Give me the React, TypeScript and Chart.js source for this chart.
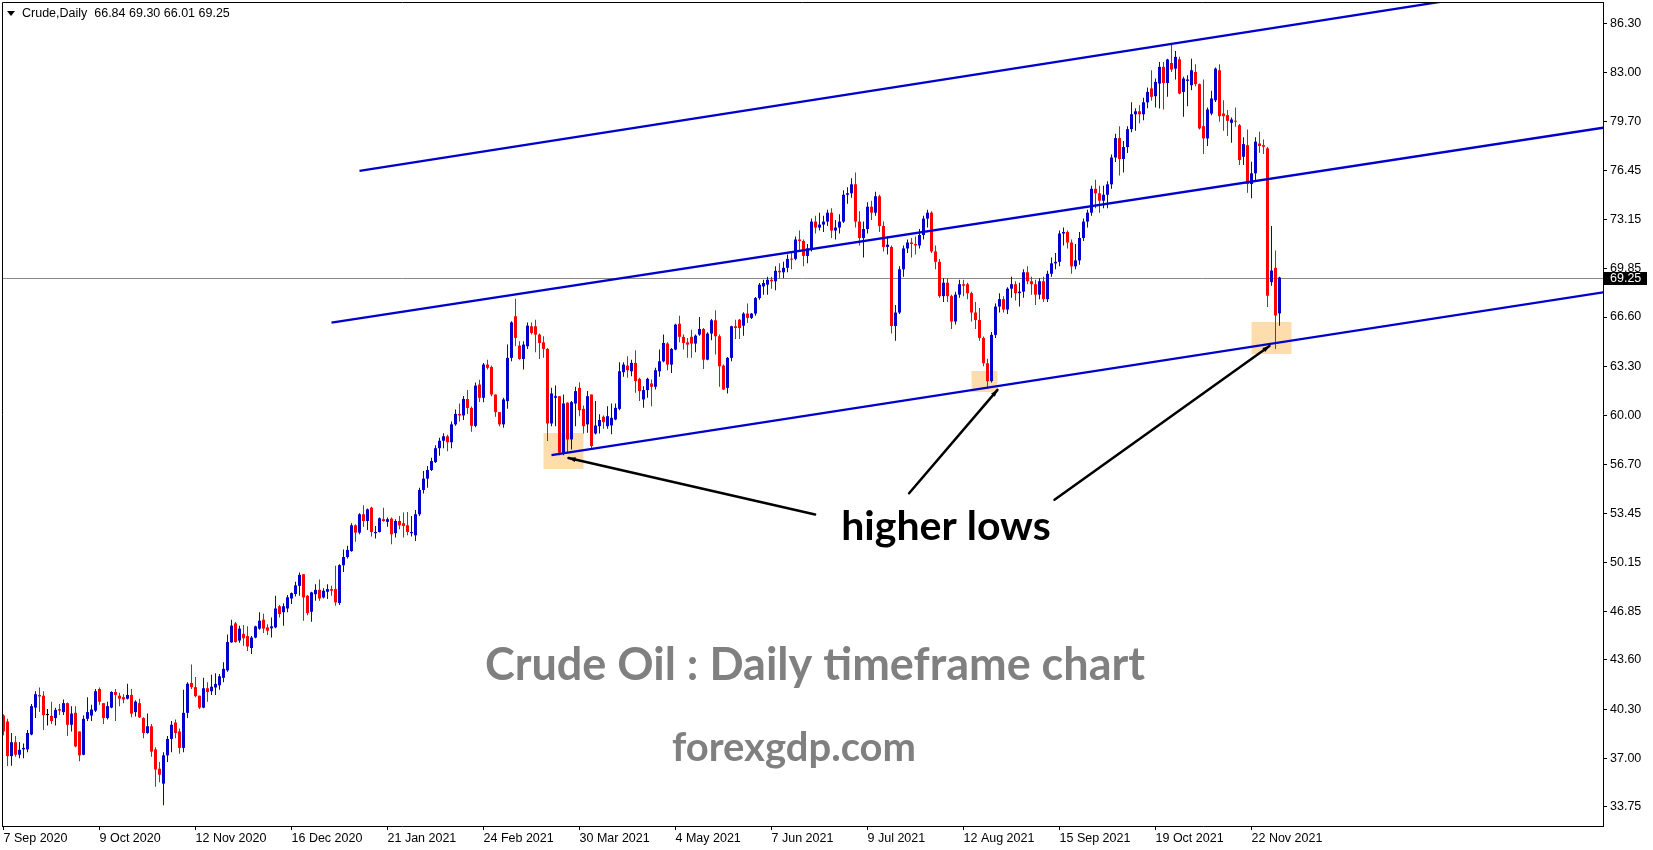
import React, { useEffect, useRef } from "react";
import { Chart, registerables } from "chart.js";

Chart.register(...registerables);

// ---------------- DATA ----------------
const openP = [
  39.87, 39.47, 37.15, 38.08, 37.24, 37.60, 37.60, 38.60, 40.40, 41.25,
  41.20, 39.90, 39.85, 39.70, 40.30, 40.10, 40.70, 39.25, 40.05, 38.80,
  37.24, 39.65, 39.87, 40.20, 41.65, 40.70, 39.70, 40.40, 41.45, 41.20,
  41.10, 41.00, 41.25, 40.10, 40.70, 39.70, 38.70, 39.15, 37.60, 36.30,
  35.30, 37.20, 38.30, 39.40, 38.80, 37.70, 40.05, 42.05, 41.77, 41.20,
  40.40, 41.70, 41.50, 41.75, 41.90, 42.40, 42.90, 44.78, 46.05, 44.90,
  45.35, 45.20, 44.40, 45.10, 45.70, 46.30, 45.78, 45.72, 45.78, 47.20,
  46.80, 47.05, 47.72, 48.02, 48.57, 49.35, 47.90, 46.83, 48.01, 48.30,
  47.79, 48.17, 48.35, 48.35, 47.42, 49.95, 50.50, 50.90, 52.63, 52.14,
  53.37, 52.92, 53.81, 52.10, 52.18, 53.04, 52.86, 53.08, 52.10, 52.92,
  52.77, 52.63, 52.10, 51.96, 53.37, 55.00, 55.76, 56.34, 56.87, 57.80,
  58.30, 58.60, 58.20, 59.40, 60.10, 60.00, 61.10, 60.50, 59.30, 62.07,
  61.18, 63.41, 63.25, 61.40, 60.22, 59.40, 60.96, 63.86, 66.65, 64.68,
  63.79, 64.64, 65.98, 65.98, 65.42, 64.90, 64.46, 59.46, 61.18, 61.29,
  57.50, 60.85, 58.39, 60.80, 61.85, 60.44, 59.40, 61.40, 58.79, 59.28,
  59.91, 59.28, 59.33, 59.73, 60.44, 62.90, 63.34, 62.96, 63.52, 62.45,
  61.07, 61.70, 62.14, 61.92, 62.96, 63.63, 64.82, 63.41, 64.42, 66.15,
  65.27, 64.90, 65.27, 64.82, 65.42, 65.80, 63.74, 65.49, 66.38, 65.31,
  63.34, 61.85, 63.86, 65.98, 66.42, 66.02, 66.83, 66.54, 66.83, 67.87,
  68.65, 68.77, 69.10, 69.00, 69.70, 69.60, 69.90, 70.50, 70.50, 71.80,
  71.70, 70.70, 71.20, 73.00, 72.60, 72.80, 73.00, 73.60, 72.40, 72.60,
  73.00, 74.80, 74.90, 75.50, 73.00, 71.90, 72.50, 74.00, 73.60, 74.70,
  72.70, 71.30, 71.30, 66.00, 66.90, 69.80, 71.20, 71.60, 71.50, 71.40,
  72.10, 73.20, 73.60, 71.00, 70.30, 68.00, 68.90, 68.00, 66.30, 68.10,
  68.80, 68.80, 68.20, 66.90, 66.40, 65.20, 63.50, 62.30, 65.40, 67.30,
  67.80, 67.10, 68.50, 68.80, 68.20, 68.30, 69.60, 69.00, 68.80, 68.10,
  69.00, 67.80, 69.50, 70.20, 70.30, 72.20, 72.30, 71.60, 70.00, 70.40,
  71.90, 73.00, 73.60, 75.20, 74.90, 74.40, 74.80, 75.50, 77.30, 78.60,
  77.20, 78.00, 79.20, 80.20, 80.40, 80.20, 81.00, 81.93, 81.41, 82.26,
  83.38, 82.30, 83.64, 83.26, 83.89, 81.70, 82.44, 82.15, 83.04, 82.22,
  79.40, 78.58, 80.25, 81.14, 83.15, 80.25, 80.14, 79.63, 79.76, 79.47,
  77.35, 78.13, 75.52, 76.24, 78.24, 78.13, 77.91, 68.94, 69.90, 66.84,
];

const highP = [
  39.95, 39.65, 38.70, 38.50, 38.10, 38.00, 38.90, 40.65, 41.50, 41.75,
  41.50, 40.30, 40.80, 40.40, 40.65, 40.95, 40.75, 40.50, 40.50, 38.80,
  39.87, 41.10, 40.60, 41.65, 41.75, 40.70, 40.80, 41.50, 41.65, 41.40,
  41.30, 42.00, 41.65, 40.90, 41.00, 39.75, 40.00, 39.30, 37.75, 36.75,
  37.40, 38.50, 39.50, 39.60, 39.00, 41.60, 42.10, 43.30, 42.45, 41.20,
  42.40, 42.10, 42.60, 42.70, 42.65, 43.45, 45.30, 46.30, 46.15, 45.90,
  45.95, 45.85, 45.20, 45.90, 46.80, 46.70, 46.00, 46.45, 47.90, 47.28,
  47.40, 47.95, 48.12, 48.84, 49.47, 49.35, 47.95, 48.17, 48.68, 49.00,
  48.40, 48.68, 48.57, 49.91, 50.02, 51.00, 51.25, 52.77, 52.70, 53.44,
  53.97, 53.75, 53.88, 52.59, 53.15, 53.81, 53.15, 53.15, 53.04, 53.26,
  53.48, 53.52, 53.26, 53.66, 55.15, 56.27, 56.60, 57.16, 58.00, 58.50,
  58.80, 58.70, 59.60, 60.40, 60.80, 61.30, 61.70, 60.60, 62.20, 62.40,
  63.52, 63.74, 63.34, 61.40, 60.22, 61.18, 64.75, 66.31, 67.83, 64.97,
  64.97, 66.24, 66.24, 66.42, 65.49, 65.31, 64.53, 61.85, 62.00, 61.29,
  61.40, 60.89, 60.96, 61.92, 62.23, 60.66, 61.63, 61.40, 60.96, 60.07,
  60.00, 60.62, 60.80, 60.80, 63.57, 63.57, 63.97, 63.74, 64.37, 62.52,
  61.96, 62.52, 62.41, 63.19, 64.42, 65.42, 64.90, 64.53, 66.15, 66.69,
  65.42, 65.20, 65.75, 65.42, 66.60, 65.86, 65.58, 66.47, 67.05, 65.42,
  63.41, 63.92, 66.02, 66.42, 66.47, 66.92, 67.50, 66.87, 67.94, 68.88,
  69.10, 69.30, 69.30, 70.00, 70.20, 70.30, 70.80, 71.00, 72.00, 72.40,
  71.80, 71.50, 73.20, 73.40, 73.60, 73.40, 73.80, 73.90, 73.10, 73.50,
  75.10, 75.30, 75.90, 76.30, 73.70, 73.00, 74.30, 74.40, 75.00, 74.80,
  73.00, 72.00, 71.40, 67.40, 70.00, 71.40, 71.80, 71.90, 72.00, 72.50,
  73.40, 73.80, 73.70, 71.40, 70.50, 69.20, 69.20, 68.10, 68.30, 69.10,
  69.10, 68.90, 68.30, 67.60, 67.20, 65.30, 63.80, 65.60, 67.50, 68.20,
  68.00, 68.60, 69.30, 69.00, 68.90, 69.80, 70.00, 69.30, 69.10, 69.20,
  69.30, 69.70, 70.60, 70.90, 72.40, 72.60, 72.40, 71.80, 71.50, 72.30,
  73.20, 73.80, 75.40, 75.80, 75.40, 75.40, 75.70, 77.50, 78.90, 79.40,
  78.40, 79.40, 81.00, 80.60, 80.80, 81.30, 82.00, 83.15, 82.60, 83.71,
  83.71, 83.93, 84.89, 84.45, 84.05, 82.71, 82.82, 83.93, 83.55, 82.26,
  82.53, 80.65, 81.77, 83.33, 83.55, 81.14, 80.48, 79.98, 80.65, 79.54,
  78.65, 79.18, 77.02, 78.65, 79.02, 78.51, 78.00, 72.71, 71.06, 69.30,
];

const lowP = [
  38.55, 36.48, 36.50, 37.10, 37.00, 37.00, 37.40, 38.55, 39.70, 40.10,
  38.90, 39.20, 39.30, 39.20, 39.90, 39.90, 38.50, 38.80, 37.75, 36.80,
  37.20, 39.50, 39.50, 40.10, 40.60, 39.30, 39.60, 40.35, 39.50, 40.50,
  40.70, 40.95, 39.75, 39.80, 39.70, 38.35, 38.65, 37.10, 35.10, 35.40,
  33.85, 36.75, 37.40, 38.35, 37.30, 37.40, 39.70, 41.65, 41.10, 40.30,
  40.35, 40.80, 41.25, 41.25, 41.60, 42.10, 42.80, 44.75, 44.75, 44.75,
  44.55, 44.20, 44.00, 45.05, 45.63, 45.40, 45.27, 45.10, 45.72, 46.45,
  45.90, 46.80, 47.35, 47.85, 47.90, 46.23, 46.60, 46.16, 47.57, 47.57,
  47.72, 47.68, 47.90, 47.23, 47.28, 49.50, 50.40, 50.85, 51.52, 52.03,
  52.54, 52.32, 51.87, 51.74, 52.14, 52.86, 52.54, 51.36, 51.81, 52.36,
  51.81, 51.96, 51.87, 51.58, 53.26, 54.77, 55.15, 56.27, 56.80, 57.30,
  57.80, 57.60, 57.80, 59.30, 59.60, 59.70, 60.10, 58.90, 59.20, 60.90,
  60.89, 63.08, 61.29, 59.91, 59.28, 59.17, 60.44, 63.63, 64.64, 63.74,
  63.08, 64.46, 65.42, 64.24, 63.79, 63.86, 58.28, 59.28, 59.28, 57.32,
  57.32, 57.50, 57.72, 59.28, 59.95, 58.79, 58.84, 57.80, 58.72, 58.79,
  59.10, 59.10, 58.73, 59.68, 60.35, 62.59, 62.52, 62.63, 61.52, 60.96,
  60.51, 61.18, 60.62, 61.74, 62.59, 63.57, 63.03, 62.85, 64.37, 64.90,
  64.42, 63.86, 63.86, 64.24, 65.35, 63.12, 63.70, 65.04, 64.08, 61.92,
  61.70, 61.47, 63.63, 65.13, 65.13, 65.35, 66.20, 66.47, 66.69, 67.76,
  68.10, 68.10, 68.50, 68.40, 69.20, 69.20, 69.60, 69.80, 70.40, 71.10,
  70.00, 70.20, 71.00, 72.20, 72.40, 72.30, 72.70, 71.90, 71.80, 72.20,
  72.90, 74.20, 74.60, 72.60, 71.40, 70.60, 72.20, 73.10, 73.40, 72.30,
  71.00, 70.80, 65.50, 65.00, 66.80, 69.30, 70.90, 70.60, 70.80, 71.20,
  71.80, 72.60, 70.90, 69.80, 67.90, 67.60, 67.60, 65.80, 66.10, 67.90,
  68.00, 67.80, 66.30, 65.80, 65.00, 63.30, 61.80, 62.20, 65.20, 66.90,
  66.90, 66.80, 67.90, 67.70, 67.30, 67.90, 68.80, 68.10, 67.40, 67.80,
  67.60, 67.60, 69.30, 69.80, 70.00, 71.40, 71.20, 69.50, 69.80, 70.10,
  71.70, 72.60, 73.40, 73.90, 73.60, 73.90, 73.90, 75.20, 77.00, 76.10,
  76.30, 77.60, 79.00, 79.10, 79.60, 79.80, 80.60, 81.10, 80.65, 80.59,
  80.52, 81.37, 83.04, 82.53, 81.55, 80.03, 80.74, 81.81, 82.08, 79.18,
  77.53, 78.07, 80.14, 81.03, 79.70, 79.09, 78.74, 78.29, 79.36, 76.79,
  76.79, 74.94, 74.56, 75.68, 77.62, 77.53, 67.27, 68.70, 64.45, 66.01,
];

const closeP = [
  38.80, 37.15, 38.08, 37.24, 37.57, 37.70, 38.70, 40.50, 41.30, 41.15,
  39.90, 39.90, 39.50, 40.25, 40.20, 40.70, 39.25, 40.00, 37.80, 37.20,
  39.65, 40.10, 40.27, 41.50, 40.80, 39.70, 40.50, 41.45, 41.25, 41.00,
  40.95, 41.25, 40.00, 40.80, 39.75, 38.70, 39.15, 37.45, 36.25, 35.90,
  37.20, 38.30, 39.25, 38.70, 37.70, 40.05, 42.00, 41.77, 41.17, 40.40,
  41.70, 41.45, 41.80, 41.99, 42.50, 43.00, 44.80, 45.90, 44.80, 45.70,
  45.05, 44.50, 45.10, 45.85, 46.23, 45.70, 45.56, 45.85, 47.05, 46.68,
  47.20, 47.80, 48.08, 48.60, 49.30, 47.79, 46.74, 48.13, 48.30, 47.72,
  48.24, 48.35, 48.24, 47.46, 49.96, 50.50, 50.98, 52.63, 52.14, 53.37,
  52.92, 53.70, 52.18, 52.18, 53.10, 52.92, 53.04, 52.03, 52.92, 52.63,
  52.59, 52.18, 52.18, 53.37, 55.00, 55.76, 56.34, 56.94, 57.80, 58.30,
  58.60, 58.20, 59.40, 60.10, 60.00, 61.10, 60.50, 59.30, 62.00, 61.18,
  63.41, 63.19, 61.40, 60.22, 59.40, 61.07, 63.86, 66.24, 65.20, 63.79,
  64.75, 66.02, 65.53, 65.42, 64.86, 64.46, 59.46, 61.47, 61.29, 57.50,
  60.80, 58.39, 60.89, 61.63, 60.35, 59.28, 61.29, 57.95, 59.32, 59.69,
  59.55, 59.95, 59.84, 60.51, 62.96, 63.41, 63.03, 63.52, 62.30, 61.63,
  61.70, 62.45, 61.92, 63.03, 63.63, 64.86, 63.41, 64.46, 66.09, 65.27,
  64.86, 64.75, 64.82, 65.35, 65.80, 63.74, 65.49, 66.38, 65.31, 63.30,
  61.74, 63.86, 65.98, 65.86, 65.86, 66.83, 66.54, 66.83, 67.87, 68.77,
  68.88, 69.10, 69.00, 69.70, 69.60, 69.90, 70.50, 70.45, 71.80, 71.70,
  70.70, 71.20, 73.00, 72.60, 72.80, 73.00, 73.60, 72.40, 72.60, 73.00,
  74.80, 74.90, 75.50, 73.00, 71.90, 72.50, 74.00, 73.60, 74.70, 72.70,
  71.30, 71.45, 66.00, 66.90, 69.80, 71.20, 71.60, 71.50, 71.40, 72.10,
  73.20, 73.60, 71.00, 70.30, 68.00, 68.90, 68.00, 66.30, 68.10, 68.80,
  68.70, 68.20, 66.90, 66.40, 65.20, 63.50, 62.30, 65.40, 67.30, 67.80,
  67.10, 68.50, 68.80, 68.20, 68.30, 69.60, 69.00, 68.80, 68.10, 69.00,
  67.80, 69.50, 70.20, 70.30, 72.20, 72.30, 71.60, 70.00, 70.40, 71.90,
  73.00, 73.60, 75.20, 74.90, 74.40, 74.80, 75.50, 77.30, 78.60, 77.20,
  78.00, 79.20, 80.20, 80.40, 80.20, 81.00, 81.70, 81.37, 82.37, 83.38,
  82.30, 83.87, 83.20, 84.05, 81.59, 82.60, 82.53, 83.15, 82.22, 79.25,
  78.58, 80.52, 81.26, 83.26, 80.07, 80.07, 79.76, 79.85, 79.70, 77.13,
  78.20, 75.52, 76.24, 78.36, 78.07, 78.02, 68.03, 69.72, 66.70, 69.25,
];

// x tick positions (bar index) and their labels
const xTickIndex = [0, 24, 48, 72, 96, 120, 144, 168, 192, 216, 240, 264, 288, 312];
const xTickLabels = [
  "7 Sep 2020", "9 Oct 2020", "12 Nov 2020", "16 Dec 2020", "21 Jan 2021",
  "24 Feb 2021", "30 Mar 2021", "4 May 2021", "7 Jun 2021", "9 Jul 2021",
  "12 Aug 2021", "15 Sep 2021", "19 Oct 2021", "22 Nov 2021",
];
const yTickValues = [86.3, 83.0, 79.7, 76.45, 73.15, 69.85, 66.6, 63.3, 60.0, 56.7, 53.45, 50.15, 46.85, 43.6, 40.3, 37.0, 33.75];

const currentPrice = 69.25;
const headerText = "Crude,Daily  66.84 69.30 66.01 69.25";

// channel (trend) lines, in (bar index, price)
const channelTop = [{ x: 89, y: 76.41 }, { x: 400, y: 89.45 }];
const channelMid = [{ x: 82, y: 66.23 }, { x: 400, y: 79.3 }];
const channelLow = [{ x: 137, y: 57.34 }, { x: 400, y: 68.26 }];

// highlighted zones (bar index range, price range)
const zoneBoxes = [
  { x0: 135, x1: 145, top: 58.82, bottom: 56.41 },
  { x0: 242, x1: 248.5, top: 62.98, bottom: 61.57 },
  { x0: 312, x1: 322, top: 66.27, bottom: 64.12 },
];

// pointer lines from the "higher lows" label to the lows
const pointerLines = [
  { fx: 202.9, fy: 53.36, tx: 141.25, ty: 57.14 },
  { fx: 226.4, fy: 54.78, tx: 248.5, ty: 61.71 },
  { fx: 262.75, fy: 54.35, tx: 316.5, ty: 64.66 },
];

// ---------------- STYLE ----------------
const W = 1653;
const H = 850;
const BLUE = "#0000CD";
const RED = "#FF0000";
const FONT = "'Liberation Sans', Arial, sans-serif";

const candleColor = (i: number) =>
  closeP[i] > openP[i] ? BLUE : closeP[i] < openP[i] ? RED : "#000000";

const decorPlugin = {
  id: "decor",
  beforeDatasetsDraw(chart: any) {
    const { ctx, chartArea: a } = chart;
    const xs = chart.scales.x;
    const ys = chart.scales.y;
    ctx.save();
    ctx.beginPath();
    ctx.rect(a.left, a.top, a.right - a.left, a.bottom - a.top);
    ctx.clip();
    ctx.fillStyle = "rgb(253,221,172)";
    for (const z of zoneBoxes) {
      const x0 = xs.getPixelForValue(z.x0);
      const x1 = xs.getPixelForValue(z.x1);
      const y0 = ys.getPixelForValue(z.top);
      const y1 = ys.getPixelForValue(z.bottom);
      ctx.fillRect(x0, y0, x1 - x0, y1 - y0);
    }
    const py = Math.round(ys.getPixelForValue(currentPrice)) + 0.5;
    ctx.strokeStyle = "#8a8a8a";
    ctx.lineWidth = 1;
    ctx.beginPath();
    ctx.moveTo(a.left, py);
    ctx.lineTo(a.right, py);
    ctx.stroke();
    ctx.restore();
  },
  afterDatasetsDraw(chart: any) {
    const { ctx } = chart;
    const xs = chart.scales.x;
    const ys = chart.scales.y;
    ctx.save();
    ctx.strokeStyle = "#000";
    ctx.fillStyle = "#000";
    ctx.lineWidth = 2.5;
    ctx.lineCap = "round";
    for (const p of pointerLines) {
      const x0 = xs.getPixelForValue(p.fx);
      const y0 = ys.getPixelForValue(p.fy);
      const x1 = xs.getPixelForValue(p.tx);
      const y1 = ys.getPixelForValue(p.ty);
      ctx.beginPath();
      ctx.moveTo(x0, y0);
      ctx.lineTo(x1, y1);
      ctx.stroke();
      const ang = Math.atan2(y1 - y0, x1 - x0);
      const len = 7;
      const hw = 2.5;
      const c = Math.cos(ang);
      const s = Math.sin(ang);
      ctx.beginPath();
      ctx.moveTo(x1, y1);
      ctx.lineTo(x1 - len * c + hw * s, y1 - len * s - hw * c);
      ctx.lineTo(x1 - len * c - hw * s, y1 - len * s + hw * c);
      ctx.closePath();
      ctx.fill();
    }
    ctx.textAlign = "center";
    ctx.textBaseline = "alphabetic";
    ctx.fillStyle = "#000";
    ctx.font = "bold 41px Lato, 'Open Sans', sans-serif";
    ctx.fillText("higher lows", 946, 540);
    ctx.fillStyle = "#808080";
    ctx.font = "bold 45px Lato, 'Open Sans', sans-serif";
    ctx.fillText("Crude Oil : Daily timeframe chart", 815, 680);
    ctx.font = "bold 40px Lato, 'Open Sans', sans-serif";
    ctx.fillText("forexgdp.com", 794, 761);
    ctx.restore();
  },
  afterDraw(chart: any) {
    const { ctx, chartArea: a } = chart;
    const ys = chart.scales.y;
    ctx.save();
    ctx.strokeStyle = "#000";
    ctx.lineWidth = 1;
    ctx.beginPath();
    ctx.moveTo(a.left + 0.5, a.bottom);
    ctx.lineTo(a.left + 0.5, a.top + 0.5);
    ctx.lineTo(a.right, a.top + 0.5);
    ctx.stroke();
    // current price tag
    const py = ys.getPixelForValue(currentPrice);
    ctx.fillStyle = "#000";
    ctx.fillRect(a.right + 1, Math.round(py) - 6, 43, 13);
    ctx.fillStyle = "#fff";
    ctx.font = `12.5px ${FONT}`;
    ctx.textAlign = "left";
    ctx.textBaseline = "middle";
    ctx.fillText(currentPrice.toFixed(2), a.right + 7, Math.round(py) + 0.5);
    // header
    ctx.fillStyle = "#000";
    ctx.beginPath();
    ctx.moveTo(7, 11);
    ctx.lineTo(15, 11);
    ctx.lineTo(11, 16);
    ctx.closePath();
    ctx.fill();
    ctx.fillText(headerText, 22, 14);
    ctx.restore();
  },
};

export default function App() {
  const ref = useRef<HTMLCanvasElement>(null);
  useEffect(() => {
    const canvas = ref.current;
    if (!canvas) return;
    const idx = closeP.map((_, i) => i);
    const colors = idx.map(candleColor);
    const lineDs = (data: { x: number; y: number }[]) => ({
      type: "line" as const,
      data,
      borderColor: BLUE,
      borderWidth: 2.3,
      pointRadius: 0,
      pointHoverRadius: 0,
      fill: false,
      tension: 0,
      clip: 0,
      order: 0,
    });
    const chart = new Chart(canvas, {
      type: "bar",
      data: {
        datasets: [
          lineDs(channelTop),
          lineDs(channelMid),
          lineDs(channelLow),
          {
            type: "bar",
            data: idx.map((i) => ({ x: i, y: [openP[i], closeP[i]] })) as any,
            backgroundColor: colors,
            borderWidth: 0,
            barThickness: 3,
            grouped: false,
            minBarLength: 1,
            inflateAmount: 0,
            order: 1,
          } as any,
          {
            type: "bar",
            data: idx.map((i) => ({ x: i, y: [lowP[i], highP[i]] })) as any,
            backgroundColor: colors,
            borderWidth: 0,
            barThickness: 1,
            grouped: false,
            inflateAmount: 0,
            order: 2,
          } as any,
        ],
      },
      options: {
        responsive: false,
        animation: false,
        events: [],
        layout: { padding: { left: 2, top: 2, right: 0, bottom: 0 } },
        plugins: { legend: { display: false }, tooltip: { enabled: false } },
        scales: {
          x: {
            type: "linear",
            min: -0.375,
            max: 399.875,
            offset: false,
            afterBuildTicks: (s: any) => {
              s.ticks = xTickIndex.map((v) => ({ value: v }));
            },
            afterFit: (s: any) => {
              s.height = 24;
              s.paddingLeft = 0;
              s.paddingRight = 0;
              s.paddingTop = 0;
              s.paddingBottom = 0;
            },
            ticks: {
              autoSkip: false,
              maxRotation: 0,
              minRotation: 0,
              align: "start",
              padding: 1,
              color: "#000",
              font: { family: FONT, size: 12.5 },
              callback: (_v: any, i: number) => xTickLabels[i] ?? "",
            },
            grid: { drawOnChartArea: false, tickLength: 4, color: "#000", lineWidth: 1, offset: false },
            border: { display: true, color: "#000", width: 1 },
          },
          y: {
            type: "linear",
            position: "right",
            min: 32.46,
            max: 87.73,
            beginAtZero: false,
            afterBuildTicks: (s: any) => {
              s.ticks = yTickValues.map((v) => ({ value: v }));
            },
            afterFit: (s: any) => {
              s.width = 50;
              s.paddingTop = 0;
              s.paddingBottom = 0;
              s.paddingLeft = 0;
              s.paddingRight = 0;
            },
            ticks: {
              padding: 3,
              color: "#000",
              font: { family: FONT, size: 12.5 },
              callback: (v: any) => Number(v).toFixed(2),
            },
            grid: { drawOnChartArea: false, tickLength: 4, color: "#000", lineWidth: 1 },
            border: { display: true, color: "#000", width: 1 },
          },
        },
      } as any,
      plugins: [decorPlugin],
    });
    return () => chart.destroy();
  }, []);
  return (
    <div style={{ position: "absolute", left: 0, top: 0, width: W, height: H, background: "#fff" }}>
      <canvas ref={ref} width={W} height={H} style={{ width: W, height: H, display: "block" }} />
    </div>
  );
}
